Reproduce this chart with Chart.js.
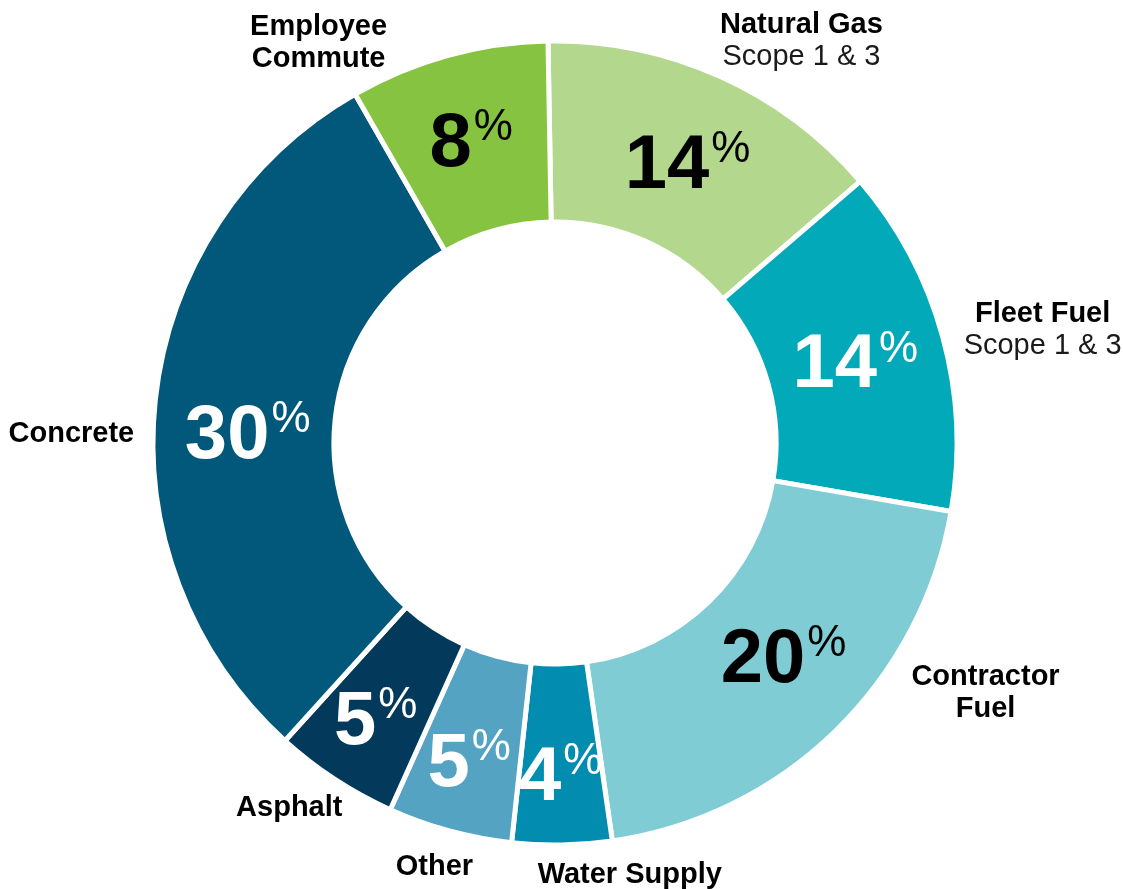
<!DOCTYPE html>
<html>
<head>
<meta charset="utf-8">
<script src="https://cdn.jsdelivr.net/npm/chart.js@4.4.1/dist/chart.umd.min.js"></script>
<style>
  html, body { margin: 0; padding: 0; background: #fff; }
  #wrap { width: 1123px; height: 889px; position: relative; }
</style>
</head>
<body>
<div id="wrap"><canvas id="donut"></canvas></div>
<script>
// slices, clockwise from 12 o'clock
const categories = ['Natural Gas', 'Fleet Fuel', 'Contractor Fuel', 'Water Supply', 'Other', 'Asphalt', 'Concrete', 'Employee Commute']
const shares = [14, 14, 20, 4, 5, 5, 30, 8]
const nameLines = [['Natural Gas'], ['Fleet Fuel'], ['Contractor', 'Fuel'], ['Water Supply'], ['Other'], ['Asphalt'], ['Concrete'], ['Employee', 'Commute']]
const subLines = ['Scope 1 & 3', 'Scope 1 & 3', '', '', '', '', '', '']

const sliceColors = ['#b3d78c', '#02a9b9', '#7fccd4', '#028cb0', '#54a3c2', '#033a5b', '#02587b', '#86c341']
const pctColors = ['#000', '#fff', '#000', '#fff', '#fff', '#fff', '#fff', '#000']

const FONT = '"Liberation Sans", Arial, Helvetica, sans-serif'
const CAP = 0.716

/* LABEL PLUGIN */

const labelPlugin = {
  id: 'sliceLabels',
  afterDatasetsDraw(chart, args, opts) {
    const { ctx } = chart
    const meta = chart.getDatasetMeta(0)
    ctx.save()
    meta.data.forEach((arc, i) => {
      const p = arc.getProps(['x', 'y', 'startAngle', 'endAngle', 'innerRadius', 'outerRadius'], true)
      const mid = (p.startAngle + p.endAngle) / 2 + (opts.turn[i] || 0) * Math.PI / 180
      const R = p.outerRadius
      const r = (p.innerRadius + p.outerRadius) / 2 + (opts.push[i] || 0) * R
      const cx = p.x + Math.cos(mid) * r
      const cy = p.y + Math.sin(mid) * r

      // big number + small superscript %
      const num = String(shares[i])
      const bigSize = opts.bigSize, pctSize = opts.pctSize
      ctx.font = `bold ${bigSize}px ${FONT}`
      const nw = ctx.measureText(num).width
      ctx.font = `${pctSize}px ${FONT}`
      const pw = ctx.measureText('%').width
      const gap = 2
      const left = cx - (nw + gap + pw) / 2
      const base = cy + (bigSize * CAP) / 2
      const top = base - bigSize * CAP
      ctx.fillStyle = pctColors[i]
      ctx.textAlign = 'left'
      ctx.textBaseline = 'alphabetic'
      ctx.font = `bold ${bigSize}px ${FONT}`
      ctx.fillText(num, left, base)
      ctx.font = `${pctSize}px ${FONT}`
      ctx.fillText('%', left + nw + gap, top - 3 + pctSize * CAP)

      // category callout
      const [fx, fy] = opts.callout[i]
      const lx = p.x + fx * R
      let ly = p.y + fy * R
      ctx.fillStyle = '#000'
      ctx.textAlign = 'center'
      ctx.font = `bold ${opts.nameSize}px ${FONT}`
      nameLines[i].forEach((t) => {
        ctx.fillText(t, lx, ly + (opts.nameSize * CAP) / 2)
        ly += opts.lineGap
      })
      if (subLines[i]) {
        ctx.font = `${opts.nameSize}px ${FONT}`
        ctx.fillStyle = '#1a1a1a'
        ctx.fillText(subLines[i], lx, ly + (opts.nameSize * CAP) / 2)
      }
    })
    ctx.restore()
  }
}

new Chart(document.getElementById('donut'), {
  type: 'doughnut',
  data: {
    labels: categories,
    datasets: [{
      data: shares,
      backgroundColor: sliceColors,
      borderColor: '#fff',
      borderWidth: 5,
      hoverOffset: 0
    }]
  },
  options: {
    responsive: true,
    maintainAspectRatio: false,
    animation: false,
    rotation: -1,
    radius: 402,
    cutout: '55%',
    layout: { padding: { left: 155, right: 168, top: 43, bottom: 46 } },
    plugins: {
      legend: { display: false },
      tooltip: { enabled: false },
      sliceLabels: {
        bigSize: 76,
        pctSize: 44,
        nameSize: 29,
        lineGap: 32,
        // radial nudge for the thin bottom slices (fraction of radius)
        push: [0, 0, 0, 0.045, 0.04, 0.04, -0.01, 0.01],
        // angular nudge, degrees
        turn: [1, 0, -3, 0, 0, 0, -4, 0],
        // callout anchors relative to centre, in units of outer radius
        callout: [
          [0.613, -1.045],
          [1.213, -0.326],
          [1.071, 0.575],
          [0.186, 1.068],
          [-0.3, 1.05],
          [-0.661, 0.903],
          [-1.203, -0.028],
          [-0.588, -1.040]
        ]
      }
    }
  },
  plugins: [labelPlugin]
})
</script>
</body>
</html>
